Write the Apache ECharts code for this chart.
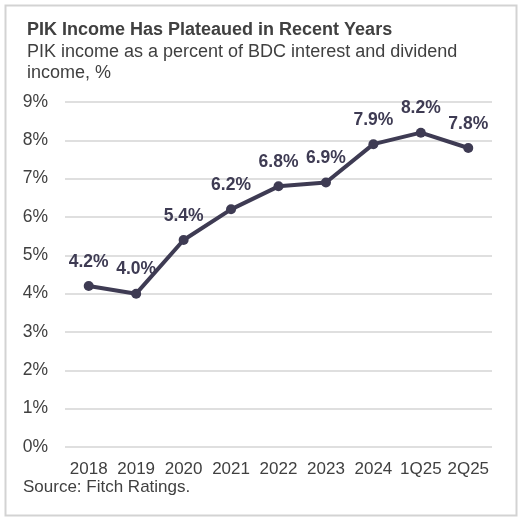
<!DOCTYPE html>
<html>
<head>
<meta charset="utf-8">
<script src="https://cdn.jsdelivr.net/npm/echarts@6/dist/echarts.min.js"></script>
<style>
  html, body { margin:0; padding:0; background:#fff; }
  #chart { width:520px; height:520px; }
</style>
</head>
<body>
<div id="chart"></div>
<script>
const categories = ['2018','2019','2020','2021','2022','2023','2024','1Q25','2Q25'];
const pikShare = [4.2, 4.0, 5.4, 6.2, 6.8, 6.9, 7.9, 8.2, 7.8];

const lineColor = '#3e3b53';
const textColor = '#404040';
const font = 'Arial, "Liberation Sans", sans-serif';

let myChart = echarts.init(document.getElementById('chart'));
let option = {
    animation:false,
    backgroundColor:'#fff',
    graphic:[
        {
            type:'rect',
            left:3, top:3,
            shape:{ width:511, height:510 },
            style:{ fill:'none', stroke:'#d3d3d3', lineWidth:2 }
        },
        {
            type:'text',
            left:27, top:21,
            style:{ text:'PIK Income Has Plateaued in Recent Years', fill:textColor,
                    font:'bold 18px ' + font }
        },
        {
            type:'text',
            left:27, top:41,
            style:{ text:'PIK income as a percent of BDC interest and dividend\nincome, %', fill:textColor,
                    font:'18px ' + font, lineHeight:21.5 }
        },
        {
            type:'text',
            left:23, top:479,
            style:{ text:'Source: Fitch Ratings.', fill:textColor, font:'17px ' + font }
        }
    ],
    grid:{ left:65, right:28, top:102, bottom:73 },
    xAxis:{
        type:'category',
        data:categories,
        boundaryGap:true,
        axisLine:{ show:false },
        axisTick:{ show:false },
        axisLabel:{ color:textColor, fontSize:17, fontFamily:font, margin:14, interval:0 }
    },
    yAxis:{
        type:'value',
        min:0,
        max:9,
        interval:1,
        axisLine:{ show:false },
        axisTick:{ show:false },
        axisLabel:{ color:textColor, fontSize:17.5, fontFamily:font, margin:17,
                    formatter:(v)=>v + '%' },
        splitLine:{ lineStyle:{ color:'#d4d4d4', width:1.5 } }
    },
    series:[
        {
            type:'line',
            data:pikShare,
            symbol:'circle',
            symbolSize:10,
            lineStyle:{ color:lineColor, width:4 },
            itemStyle:{ color:lineColor },
            label:{
                show:true,
                position:'top',
                distance:10,
                color:lineColor,
                fontSize:17.5,
                fontWeight:'bold',
                fontFamily:font,
                formatter:(p)=>p.value.toFixed(1) + '%'
            }
        }
    ]
};
myChart.setOption(option);
</script>
</body>
</html>
